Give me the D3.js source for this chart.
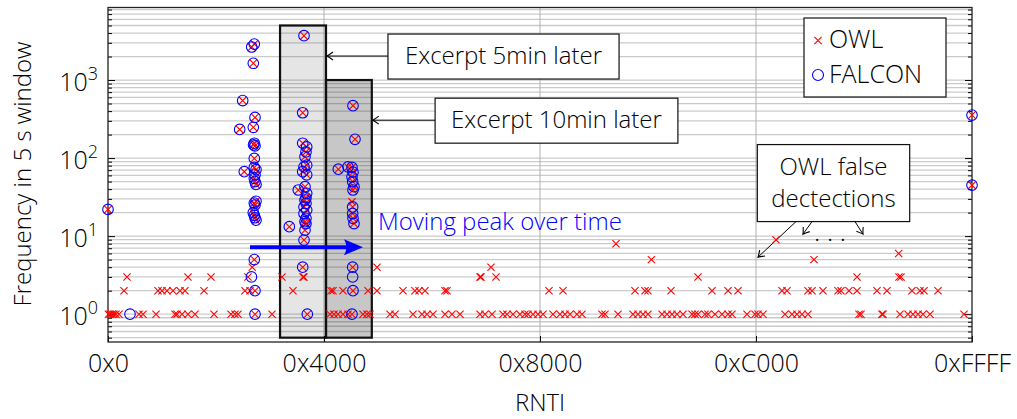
<!DOCTYPE html>
<html>
<head>
<meta charset="utf-8">
<script src="https://cdn.jsdelivr.net/npm/d3@7"></script>
<style>
  body { margin: 0; background: #fff; }
  text { font-family: "Open Sans", sans-serif; font-weight: 300; }
</style>
</head>
<body>
<div id="chart"></div>
<script>
// RNTI values where OWL saw frequency 1, 2 and 3 (outside the shared detections)
const owlFreq1 = [30, 152, 303, 455, 607, 834, 2351, 2655, 3641, 5082, 5234, 5613, 6068, 6599, 8040,
  9329, 9633, 9860, 12439, 16839, 17142, 17446, 17825, 18204, 19342, 19645, 19873, 21390, 21769,
  23134, 23817, 24196, 24651, 25561, 26092, 26699, 28216, 28596, 29127, 29961, 30264, 30719, 31250,
  31629, 31857, 32236, 32615, 32995, 33753, 34285, 34664, 35043, 35574, 35953, 37470, 37698, 38684,
  39822, 40201, 40581, 40960, 42022, 42401, 42780, 43160, 43615, 44298, 44525, 44753, 45284, 45511,
  46042, 46573, 47028, 47331, 48469, 49076, 49303, 49682, 51351, 51882, 52261, 52640, 53095, 56964,
  57115, 58708, 58784, 60074, 60680, 61060, 61439, 61818, 62349, 64928];
const owlFreq2 = [1214, 3793, 4096, 4475, 4930, 5461, 5840, 7282, 10391, 10771, 14032, 16915, 17066,
  17825, 19721, 20404, 22376, 23286, 23590, 24045, 25561, 25713, 33450, 34512, 39973, 40732, 40960,
  42704, 45814, 47028, 47786, 51124, 51503, 53095, 53399, 54233, 55371, 55598, 56205, 56812, 58329,
  59087, 60983, 61590, 61894, 62956];
const owlFreq3 = [1441, 6068, 7813, 10619, 13198, 14790, 14866, 28216, 28292, 29430, 44753, 56812,
  59996, 60150];
// [RNTI, frequency] seen by OWL only
const owlOnly = [[10940, 4], [20404, 4], [29051, 4], [41216, 5], [53550, 5], [59974, 6], [38532, 8],
  [50668, 9], [18507, 27.5]];
// [RNTI, frequency] seen by FALCON only
const falconOnly = [[1669, 1], [10880, 3], [18557, 3]];
// [RNTI, frequency] seen by both tools
const bothEdges = [[0, 22], [65535, 356], [65535, 45]];
const bothPeakNow = [[11097, 2890], [10900, 2650], [11021, 1640], [10217, 545], [11150, 332],
  [11021, 248], [9989, 233], [11097, 155], [11040, 148], [11150, 143], [11097, 99], [10338, 67],
  [11097, 76], [11226, 71], [11150, 61], [11097, 55], [11150, 50], [11226, 46], [11226, 28],
  [11150, 25], [11097, 26.5], [11021, 20], [11097, 18.5], [11226, 16], [11150, 17.2], [11097, 5],
  [11150, 2], [11150, 1]];
const bothPeak5min = [[14867, 3700], [14768, 381], [14768, 155], [15071, 139], [15018, 120],
  [14942, 104], [15071, 81], [14867, 77], [14768, 67], [15071, 61], [14434, 39], [14942, 43],
  [15071, 35.4], [15018, 31], [14942, 29], [15018, 26.3], [14867, 23.7], [15071, 21.6], [14867, 19.5],
  [15018, 16.9], [14942, 15.3], [15018, 14.5], [14942, 11.9], [14867, 8.9], [13752, 13.2],
  [14768, 4], [15118, 1]];
const bothPeak10min = [[18583, 470], [18735, 174], [17470, 72], [18204, 77], [18507, 76],
  [18583, 66], [18507, 57.6], [18557, 50], [18659, 43], [18583, 39], [18557, 23.7], [18557, 19.5],
  [18583, 16.9], [18659, 14.5], [18557, 4], [18583, 2], [18507, 1]];

// shaded excerpt windows: [RNTI from, RNTI to, top frequency]
const excerpts = [[13050, 16535, 5000], [16535, 20010, 1000]];
const xTicks = [0, 0x4000, 0x8000, 0xC000, 0xFFFF];
const yDecades = [1, 10, 100, 1000];

const both = bothEdges.concat(bothPeakNow, bothPeak5min, bothPeak10min);
const owl = owlFreq1.map(r => [r, 1])
  .concat(owlFreq2.map(r => [r, 2]), owlFreq3.map(r => [r, 3]), owlOnly, both);
const falcon = both.concat(falconOnly);

const W = 1017, H = 419;
const pL = 108, pR = 972, pT = 7.5, pB = 342;

const svg = d3.select('#chart').append('svg')
  .attr('width', W).attr('height', H);

const x = d3.scaleLinear().domain([0, 0xFFFF]).range([pL, pR]);
const y = d3.scaleLog().domain([0.44, 8500]).range([pB, pT]);

// minor + major horizontal grid
let gridVals = [];
for (let e = -1; e <= 3; e++) for (let m = 1; m <= 9; m++) {
  let v = m * Math.pow(10, e);
  if (v >= 0.44 && v <= 8500) gridVals.push(v);
}
svg.append('g').selectAll('line').data(gridVals).join('line')
  .attr('x1', pL).attr('x2', pR)
  .attr('y1', d => y(d)).attr('y2', d => y(d))
  .attr('stroke', '#cbcbcb').attr('stroke-width', 1.3);

svg.append('g').selectAll('line').data(xTicks.slice(1, 4)).join('line')
  .attr('x1', d => x(d)).attr('x2', d => x(d))
  .attr('y1', pT).attr('y2', pB)
  .attr('stroke', '#b0b0b0').attr('stroke-width', 1);

// excerpt windows
svg.append('g').selectAll('rect').data(excerpts).join('rect')
  .attr('x', d => x(d[0])).attr('width', d => x(d[1]) - x(d[0]))
  .attr('y', d => y(d[2])).attr('height', d => y(0.5) - y(d[2]))
  .attr('fill', '#000').attr('fill-opacity', (d, i) => i ? 0.22 : 0.1)
  .attr('stroke', '#111').attr('stroke-width', 2.2);

// axes
const xAxis = svg.append('g').attr('transform', `translate(0,${pB})`)
  .call(d3.axisBottom(x).tickValues(xTicks).tickSize(-6).tickPadding(12)
    .tickFormat(d => '0x' + d.toString(16).toUpperCase()));
xAxis.select('.domain').remove();
xAxis.selectAll('text').attr('font-size', 25).attr('fill', '#000');

const minorVals = gridVals.filter(v => !yDecades.includes(v));
[[d3.axisLeft, pL], [d3.axisRight, pR]].forEach(([ax, pos]) => {
  const gMaj = svg.append('g').attr('transform', `translate(${pos},0)`)
    .call(ax(y).tickValues(yDecades).tickSize(-7).tickFormat(''));
  gMaj.select('.domain').remove();
  const gMin = svg.append('g').attr('transform', `translate(${pos},0)`)
    .call(ax(y).tickValues(minorVals).tickSize(-4).tickFormat(''));
  gMin.select('.domain').remove();
});

svg.append('g').selectAll('text').data(yDecades).join('text')
  .attr('x', 98).attr('y', d => y(d) + 10.7)
  .attr('text-anchor', 'end').attr('font-size', 25).attr('fill', '#000')
  .each(function(d) {
    const t = d3.select(this);
    t.append('tspan').text('10');
    t.append('tspan').attr('dy', -11).attr('font-size', 18).text(Math.round(Math.log10(d)));
  });

svg.append('rect')
  .attr('x', pL).attr('y', pT).attr('width', pR - pL).attr('height', pB - pT)
  .attr('fill', 'none').attr('stroke', '#222').attr('stroke-width', 1.3);

svg.append('text').attr('x', (pL + pR) / 2).attr('y', 411)
  .attr('text-anchor', 'middle').attr('font-size', 24).attr('fill', '#000').text('RNTI');
svg.append('text').attr('transform', 'translate(31,174) rotate(-90)')
  .attr('text-anchor', 'middle').attr('font-size', 24).attr('fill', '#000')
  .text('Frequency in 5 s window');

// moving peak arrow
const ay = y(7.2), ax0 = x(10771), ax1 = x(19342);
svg.append('line').attr('x1', ax0).attr('x2', ax1 - 10).attr('y1', ay).attr('y2', ay)
  .attr('stroke', '#0000ff').attr('stroke-width', 4);
svg.append('path')
  .attr('d', `M${ax1},${ay} L${ax1 - 19},${ay - 8} Q${ax1 - 14},${ay} ${ax1 - 19},${ay + 8} Z`)
  .attr('fill', '#0000ff');
svg.append('text').attr('x', x(0x5000)).attr('y', y(11.9))
  .attr('font-size', 24).attr('fill', '#0000ff').text('Moving peak over time');

// callouts
svg.append('defs').append('marker').attr('id', 'arr')
  .attr('viewBox', '-8 -5 10 10').attr('markerWidth', 10).attr('markerHeight', 10)
  .attr('markerUnits', 'userSpaceOnUse').attr('orient', 'auto')
  .append('path').attr('d', 'M-6,-4 Q-2,-1 0,0 Q-2,1 -6,4')
  .attr('fill', 'none').attr('stroke', '#000').attr('stroke-width', 1.1);

function callout(lines, cx, cy, pad) {
  const g = svg.append('g');
  const t = g.append('text').attr('font-size', 24).attr('fill', '#000').attr('text-anchor', 'middle');
  lines.forEach((s, i) => t.append('tspan').attr('x', cx).attr('y', cy + i * 32).text(s));
  const bb = t.node().getBBox();
  const h = 13 + lines.length * 32;
  const bx = cx - bb.width / 2 - pad, by = cy - 30;
  g.insert('rect', 'text').attr('x', bx).attr('y', by).attr('width', bb.width + 2 * pad).attr('height', h)
    .attr('fill', '#fff').attr('stroke', '#111').attr('stroke-width', 1.2);
  return { bx, by, h };
}
function arrow(x1, y1, x2, y2) {
  svg.append('line').attr('x1', x1).attr('y1', y1).attr('x2', x2).attr('y2', y2)
    .attr('stroke', '#000').attr('stroke-width', 1).attr('marker-end', 'url(#arr)');
}

let b1 = callout(['Excerpt 5min later'], x(30000), y(2030) + 8, 17);
arrow(b1.bx, y(2030), x(16535) + 1, y(2030));
let b2 = callout(['Excerpt 10min later'], x(34019), y(306) + 8, 16);
arrow(b2.bx, y(306), x(20010) + 1, y(306));
let b3 = callout(['OWL false', 'dectections'], x(55030), y(50) - 7, 14);
const noteArrows = [[52186, 49303, 5.38], [53399, 52716, 10.6], [56660, 57267, 10.6]];
noteArrows.forEach(d => arrow(x(d[0]), b3.by + b3.h, x(d[1]), y(d[2])));
svg.append('text').attr('x', x(54764)).attr('y', y(8.1) + 5).attr('text-anchor', 'middle')
  .attr('font-size', 26).attr('font-weight', 700).attr('fill', '#000').text('·  ·  ·');

// marks
const cross = 'M-3.6,-3.6L3.6,3.6M-3.6,3.6L3.6,-3.6';
svg.append('g').selectAll('path').data(owl).join('path')
  .attr('transform', d => `translate(${x(d[0])},${y(d[1])})`)
  .attr('d', cross).attr('stroke', '#ff0000').attr('stroke-width', 1.1).attr('fill', 'none');
svg.append('g').selectAll('circle').data(falcon).join('circle')
  .attr('cx', d => x(d[0])).attr('cy', d => y(d[1])).attr('r', 5.3)
  .attr('stroke', '#0000ff').attr('stroke-width', 1.1).attr('fill', 'none');

// legend
const lg = svg.append('g');
lg.append('rect').attr('x', 804).attr('y', 18).attr('width', 142).attr('height', 79)
  .attr('fill', '#fff').attr('stroke', '#111').attr('stroke-width', 1.2);
lg.append('path').attr('transform', 'translate(818,40.5)').attr('d', cross)
  .attr('stroke', '#ff0000').attr('stroke-width', 1.1);
lg.append('circle').attr('cx', 818).attr('cy', 75).attr('r', 5.5)
  .attr('stroke', '#0000ff').attr('stroke-width', 1.1).attr('fill', 'none');
lg.append('text').attr('x', 829).attr('y', 48).attr('font-size', 25).attr('fill', '#000').text('OWL');
lg.append('text').attr('x', 829).attr('y', 82.5).attr('font-size', 25).attr('fill', '#000').text('FALCON');
</script>
</body>
</html>
